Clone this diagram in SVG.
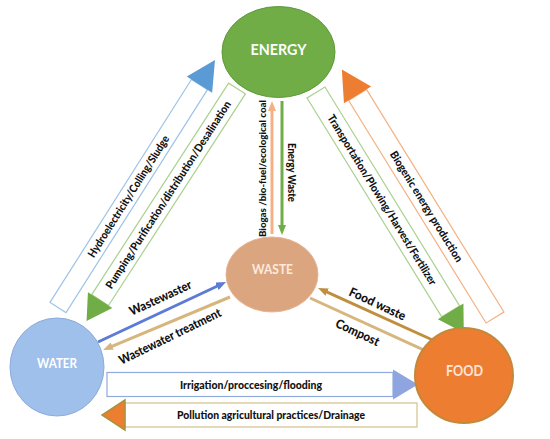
<svg xmlns="http://www.w3.org/2000/svg" width="550" height="439" viewBox="0 0 550 439">
<style>
.lbl{font-family:Lato,"Open Sans","Liberation Sans",sans-serif;font-weight:900;fill:#111;text-anchor:middle}
.nd{font-family:Lato,"Open Sans","Liberation Sans",sans-serif;font-weight:bold;text-anchor:middle}
.shaft{fill:#fff;stroke-width:1.2}
</style>
<defs>
<marker id="mPeach" markerUnits="userSpaceOnUse" markerWidth="10" markerHeight="8" refX="3" refY="4" orient="auto"><path d="M0,0 L10,4 L0,8 z" fill="#F4B183"/></marker>
<marker id="mGreen" markerUnits="userSpaceOnUse" markerWidth="10" markerHeight="8" refX="3" refY="4" orient="auto"><path d="M0,0 L10,4 L0,8 z" fill="#70AD47"/></marker>
<marker id="mBlue" markerUnits="userSpaceOnUse" markerWidth="10" markerHeight="8" refX="3" refY="4" orient="auto"><path d="M0,0 L10,4 L0,8 z" fill="#5B7BD5"/></marker>
<marker id="mTan" markerUnits="userSpaceOnUse" markerWidth="10" markerHeight="8" refX="3" refY="4" orient="auto"><path d="M0,0 L10,4 L0,8 z" fill="#D7B67E"/></marker>
<marker id="mGold" markerUnits="userSpaceOnUse" markerWidth="10" markerHeight="8" refX="3" refY="4" orient="auto"><path d="M0,0 L10,4 L0,8 z" fill="#BF8F3F"/></marker>
</defs>
<rect width="550" height="439" fill="#fff"/>
<g id="connectors">
  <g transform="translate(58,307.5) rotate(-57.6)">
    <rect class="shaft" x="0" y="-9.5" width="264" height="19" stroke="#9DC3E6"/>
    <polygon points="264,-15 293,0 264,15" fill="#5B9BD5"/>
    <text class="lbl" x="131.5" y="3.8" font-size="11" textLength="142" lengthAdjust="spacingAndGlyphs">Hydroelectricity/Colling/Sludge</text>
  </g>
  <g transform="translate(237,88.5) rotate(122.9)">
    <rect class="shaft" x="0" y="-10" width="252" height="20" stroke="#A9D18E"/>
    <polygon points="252,-14.5 277,0 252,14.5" fill="#70AD47"/>
    <text class="lbl" transform="rotate(180 126.6 0)" x="126.6" y="3.8" font-size="11" textLength="221" lengthAdjust="spacingAndGlyphs">Pumping/Purification/distribution/Desalination</text>
  </g>
  <g transform="translate(495,317.5) rotate(-121.7)">
    <rect class="shaft" x="0" y="-10.5" width="261.6" height="21" stroke="#F4B183"/>
    <polygon points="261.6,-16 291.4,0 261.6,16" fill="#ED7D31"/>
    <text class="lbl" transform="rotate(180 130.4 0)" x="130.4" y="3.8" font-size="11" textLength="128" lengthAdjust="spacingAndGlyphs">Biogenic energy production</text>
  </g>
  <g transform="translate(316,92.5) rotate(58.4)">
    <rect class="shaft" x="0" y="-10.5" width="257" height="21" stroke="#A9D18E"/>
    <polygon points="257,-15 282,0 257,15" fill="#70AD47"/>
    <text class="lbl" x="126" y="3.8" font-size="11" textLength="198" lengthAdjust="spacingAndGlyphs">Transportation/Plowing/Harvest/Fertilizer</text>
  </g>
  <g>
    <rect class="shaft" x="107" y="372.5" width="286" height="24" stroke="#8FAADC"/>
    <polygon points="393,369.5 418,384.5 393,399.5" fill="#8FA5E0"/>
    <text class="lbl" x="251" y="388.5" font-size="11" textLength="142" lengthAdjust="spacingAndGlyphs">Irrigation/proccesing/flooding</text>
  </g>
  <g>
    <rect class="shaft" x="125" y="403" width="292" height="24" stroke="#D6C08A"/>
    <polygon points="125,400 102,415 125,430" fill="#ED7D31" stroke="#A8943A" stroke-width="1.5"/>
    <text class="lbl" x="271" y="419" font-size="11" textLength="188" lengthAdjust="spacingAndGlyphs">Pollution agricultural practices/Drainage</text>
  </g>
  <line x1="272" y1="234" x2="272" y2="108" stroke="#F4B183" stroke-width="3" marker-end="url(#mPeach)"/>
  <line x1="282" y1="101" x2="282" y2="228" stroke="#70AD47" stroke-width="3" marker-end="url(#mGreen)"/>
  <text class="lbl" transform="translate(263,168.5) rotate(-90)" x="0" y="3.4" font-size="10" textLength="137" lengthAdjust="spacingAndGlyphs">Biogas /bio-fuel/ecological coal</text>
  <text class="lbl" transform="translate(292,172.5) rotate(90)" x="0" y="3.6" font-size="10.5" textLength="59" lengthAdjust="spacingAndGlyphs">Energy Waste</text>
  <line x1="98" y1="342" x2="219.7" y2="285" stroke="#5B7BD5" stroke-width="3" marker-end="url(#mBlue)"/>
  <line x1="230" y1="297" x2="109.5" y2="347.3" stroke="#D7B67E" stroke-width="3" marker-end="url(#mTan)"/>
  <text class="lbl" transform="translate(160.5,298) rotate(-24.8)" x="0" y="4.2" font-size="12.5" textLength="67" lengthAdjust="spacingAndGlyphs">Wastewaster</text>
  <text class="lbl" transform="translate(170,336.5) rotate(-26)" x="0" y="4.2" font-size="12.5" textLength="112" lengthAdjust="spacingAndGlyphs">Wastewater treatment</text>
  <line x1="448" y1="347" x2="324.4" y2="290.9" stroke="#BF8F3F" stroke-width="3" marker-end="url(#mGold)"/>
  <line x1="310" y1="298" x2="430.6" y2="353.1" stroke="#D7B67E" stroke-width="3" marker-end="url(#mTan)"/>
  <text class="lbl" transform="translate(377.5,304) rotate(25)" x="0" y="4.2" font-size="12.5" textLength="61" lengthAdjust="spacingAndGlyphs">Food waste</text>
  <text class="lbl" transform="translate(357.5,332.5) rotate(25)" x="0" y="4.2" font-size="12.5" textLength="47" lengthAdjust="spacingAndGlyphs">Compost</text>
</g>
<g id="energy">
  <ellipse cx="278.5" cy="52" rx="56.5" ry="45.5" fill="#70AD47" stroke="#5E9A3A" stroke-width="1"/>
  <text class="nd" x="278.5" y="54.5" font-size="15" fill="#fff" textLength="56" lengthAdjust="spacingAndGlyphs">ENERGY</text>
</g>
<g id="waste">
  <ellipse cx="272" cy="274.5" rx="46" ry="37.5" fill="#DBA57F" stroke="#E6B592" stroke-width="1"/>
  <text class="nd" x="272.5" y="273.5" font-size="13" fill="#FCEBDD" textLength="41" lengthAdjust="spacingAndGlyphs">WASTE</text>
</g>
<g id="water">
  <ellipse cx="57" cy="367" rx="47" ry="49" fill="#9FC0EA" stroke="#8FAADC" stroke-width="1"/>
  <text class="nd" x="57" y="367.5" font-size="12.5" fill="#fff" textLength="40" lengthAdjust="spacingAndGlyphs">WATER</text>
</g>
<g id="food">
  <ellipse cx="464" cy="375.5" rx="49" ry="47.5" fill="#ED7D31" stroke="#C4883A" stroke-width="2"/>
  <text class="nd" x="464.5" y="376" font-size="15" fill="#FCE4D6" textLength="37" lengthAdjust="spacingAndGlyphs">FOOD</text>
</g>
</svg>
